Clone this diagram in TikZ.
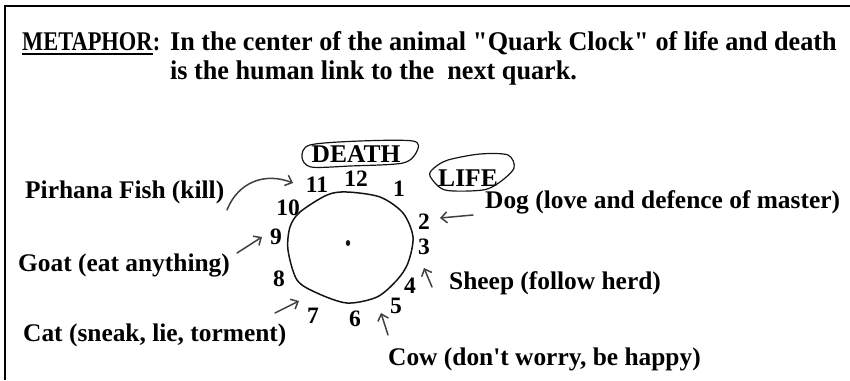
\documentclass[tikz,border=0pt]{standalone}
\usepackage{fontspec}
\setmainfont{Liberation Serif}
\newfontfamily\headfont{Liberation Serif}[FakeStretch=0.97]
\newfontfamily\metafont{Liberation Serif}[FakeStretch=0.83]
\usetikzlibrary{arrows.meta,calc}

\definecolor{inkcolor}{rgb}{0.080000, 0.080000, 0.080000}
\definecolor{pencilcolor}{rgb}{0.250000, 0.250000, 0.250000}

\tikzset{
  headtext/.style={anchor=base west, inner sep=0pt, font=\headfont\fontsize{27}{32}\selectfont\bfseries},
  metatext/.style={anchor=base west, inner sep=0pt, font=\metafont\fontsize{27}{32}\selectfont\bfseries},
  animaltext/.style={anchor=base west, inner sep=0pt, font=\fontsize{25.4}{30}\selectfont\bfseries},
  hournum/.style={inner sep=0pt, font=\fontsize{23.5}{27}\selectfont\bfseries},
  fatetext/.style={inner sep=0pt, font=\fontsize{25.5}{29}\selectfont\bfseries},
  ring/.style={draw=inkcolor, line width=1.5pt},
  pencilarrow/.style={draw=pencilcolor, line width=1.5pt, line cap=round, -{Straight Barb[length=6pt,width=11pt]}},
}

\begin{document}
\begin{tikzpicture}[x=1pt,y=-1pt]
\useasboundingbox (0,0) rectangle (850,380);
% frame
\draw[line width=1.8pt] (5,380) -- (5,6) -- (850,6);
% heading
\node[metatext] (metaword) at (22,50) {METAPHOR};
\node[metatext] (metacolon) at (metaword.base east) {:};
\draw[line width=2.4pt] ($(metaword.base west)+(0,4)$) -- ($(metaword.base east)+(0,4)$);
\node[headtext] (headone) at (170,50) {In the center of the animal \textquotedbl Quark Clock\textquotedbl{} of life and death};
\node[headtext] (headtwo) at (170,79) {is the human link to the \ next quark.};
% clock face
\draw[ring] plot[smooth cycle] coordinates {(300,212) (327,195) (347,192) (380,197) (403,213) (413,237) (408,263) (397,280) (377,297) (347,303) (317,293) (297,280) (288,250) (290,227)};
\fill[inkcolor] (348,243) ellipse [x radius=2.2, y radius=3];
\foreach \h/\x/\y in {12/356/179, 11/317/185, 1/399/189, 10/288/208, 2/424/222, 9/276/237,
                      3/424/247, 8/279/279, 4/410/286, 7/313/316, 6/355/319, 5/396/306}
  \node[hournum] (h\h) at (\x,\y) {\h};
% death and life
\node[fatetext] (death) at (356,154) {DEATH};
\draw[ring, line width=1.2pt] plot[smooth cycle] coordinates {(302,157) (311,167) (350,166) (403,163) (417,151) (413,141) (360,141) (310,145)};
\node[fatetext] (life) at (468,178) {LIFE};
\draw[ring, line width=1.2pt] plot[smooth cycle] coordinates {(430,176) (445,190) (483,190) (500,182) (514,168) (508,155) (480,154) (448,160) (434,168)};
% animals
\node[animaltext] (fish) at (25,198) {Pirhana Fish (kill)};
\node[animaltext] (goat) at (18,271) {Goat (eat anything)};
\node[animaltext] (cat) at (23,341) {Cat (sneak, lie, torment)};
\node[animaltext] (dog) at (485,208) {Dog (love and defence of master)};
\node[animaltext] (sheep) at (449,289) {Sheep (follow herd)};
\node[animaltext] (cow) at (388,365) {Cow (don\textquotesingle t worry, be happy)};
% pencil arrows
\coordinate (fishtail) at (227,210);  \coordinate (fishtip) at (293,183);
\coordinate (goattail) at (237,253);  \coordinate (goattip) at (262,237);
\coordinate (cattail) at (275,313);   \coordinate (cattip) at (299,301);
\coordinate (dogtail) at (473,215);   \coordinate (dogtip) at (440,218);
\coordinate (sheeptail) at (432,287); \coordinate (sheeptip) at (424,268);
\coordinate (cowtail) at (388,335);   \coordinate (cowtip) at (381,313);
\draw[pencilarrow] (fishtail) .. controls (238,182) and (265,172) .. (fishtip);
\draw[pencilarrow] (goattail) -- (goattip);
\draw[pencilarrow] (cattail) -- (cattip);
\draw[pencilarrow] (dogtail) -- (dogtip);
\draw[pencilarrow] (sheeptail) -- (sheeptip);
\draw[pencilarrow] (cowtail) -- (cowtip);
\end{tikzpicture}
\end{document}
